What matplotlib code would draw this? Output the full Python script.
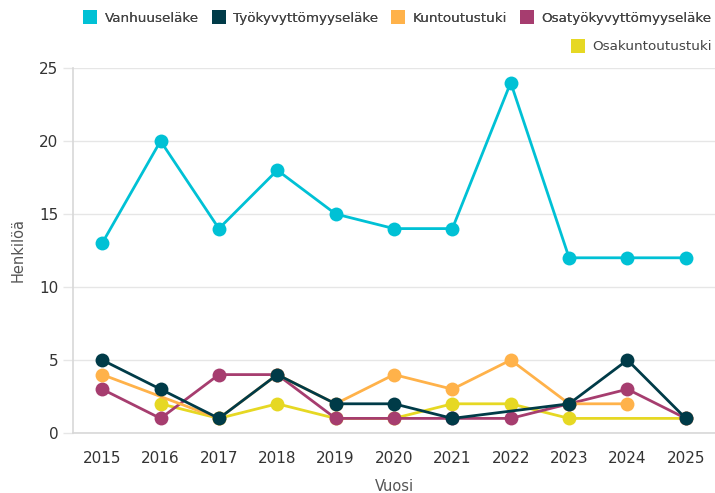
import matplotlib
matplotlib.use("Agg")
import matplotlib.pyplot as plt
from matplotlib.lines import Line2D

plt.rcParams['font.family'] = ['DejaVu Sans']

years = [2015, 2016, 2017, 2018, 2019, 2020, 2021, 2022, 2023, 2024, 2025]

# None = no value for that year (line is joined across it)
vanhuus = [13, 20, 14, 18, 15, 14, 14, 24, 12, 12, 12]
tyokyv = [5, 3, 1, 4, 2, 2, 1, None, 2, 5, 1]
kuntou = [4, None, 1, 4, 2, 4, 3, 5, 2, 2, None]
osatyo = [3, 1, 4, 4, 1, 1, 1, 1, 2, 3, 1]
osakunt = [None, 2, 1, 2, 1, 1, 2, 2, 1, None, 1]

names = ["Vanhuuseläke", "Työkyvyttömyyseläke", "Kuntoutustuki",
         "Osatyökyvyttömyyseläke", "Osakuntoutustuki"]
colors = ["#00C1D5", "#003B48", "#FFB24A", "#A63D6F", "#E6D823"]
series = [vanhuus, tyokyv, kuntou, osatyo, osakunt]

fig = plt.figure(figsize=(7.15, 4.93), dpi=100)
ax = fig.add_axes([73/715, 60/493, 642/715, 365/493])

# first series drawn on top
for i, (vals, c) in enumerate(zip(series, colors)):
    xs = [x for x, v in zip(years, vals) if v is not None]
    ys = [v for v in vals if v is not None]
    ax.plot(xs, ys, color=c, lw=2, marker='o', ms=10, mew=0,
            zorder=10 - i, clip_on=False)

ax.set_xlim(2014.5, 2025.5)
ax.set_ylim(0, 25)
ax.set_xticks(years)
ax.set_yticks([0, 5, 10, 15, 20, 25])
ax.tick_params(axis='x', length=0, labelsize=11, colors='#333333', pad=13)
ax.tick_params(axis='y', length=7.5, width=1, color='#e6e6e6',
               labelsize=11, labelcolor='#333333', pad=3)
ax.grid(axis='y', color='#e6e6e6', lw=1)
ax.grid(axis='x', visible=False)
ax.set_axisbelow(True)
for s in ['top', 'right']:
    ax.spines[s].set_visible(False)
for s in ['left', 'bottom']:
    ax.spines[s].set_color('#d8d8d8')
    ax.spines[s].set_linewidth(1.2)

ax.set_xlabel("Vuosi", fontsize=10.5, color='#555555', labelpad=9)
ax.set_ylabel("Henkilöä", fontsize=10.5, color='#555555', labelpad=10)

handles = [Line2D([], [], ls='none', marker='s', ms=10, mew=0, color=c)
           for c in colors]
leg_kw = dict(frameon=False, fontsize=9.7, handletextpad=0.55,
              handlelength=1.0, labelcolor='#444444')
leg1 = fig.legend(handles[:4], names[:4], loc='upper right',
                  bbox_to_anchor=(1.012, 1.0), ncol=4, columnspacing=1.0,
                  **leg_kw)
fig.add_artist(leg1)
fig.legend(handles[4:], names[4:], loc='upper right',
           bbox_to_anchor=(1.012, 0.943), **leg_kw)

fig.savefig("out.png", dpi=100)
